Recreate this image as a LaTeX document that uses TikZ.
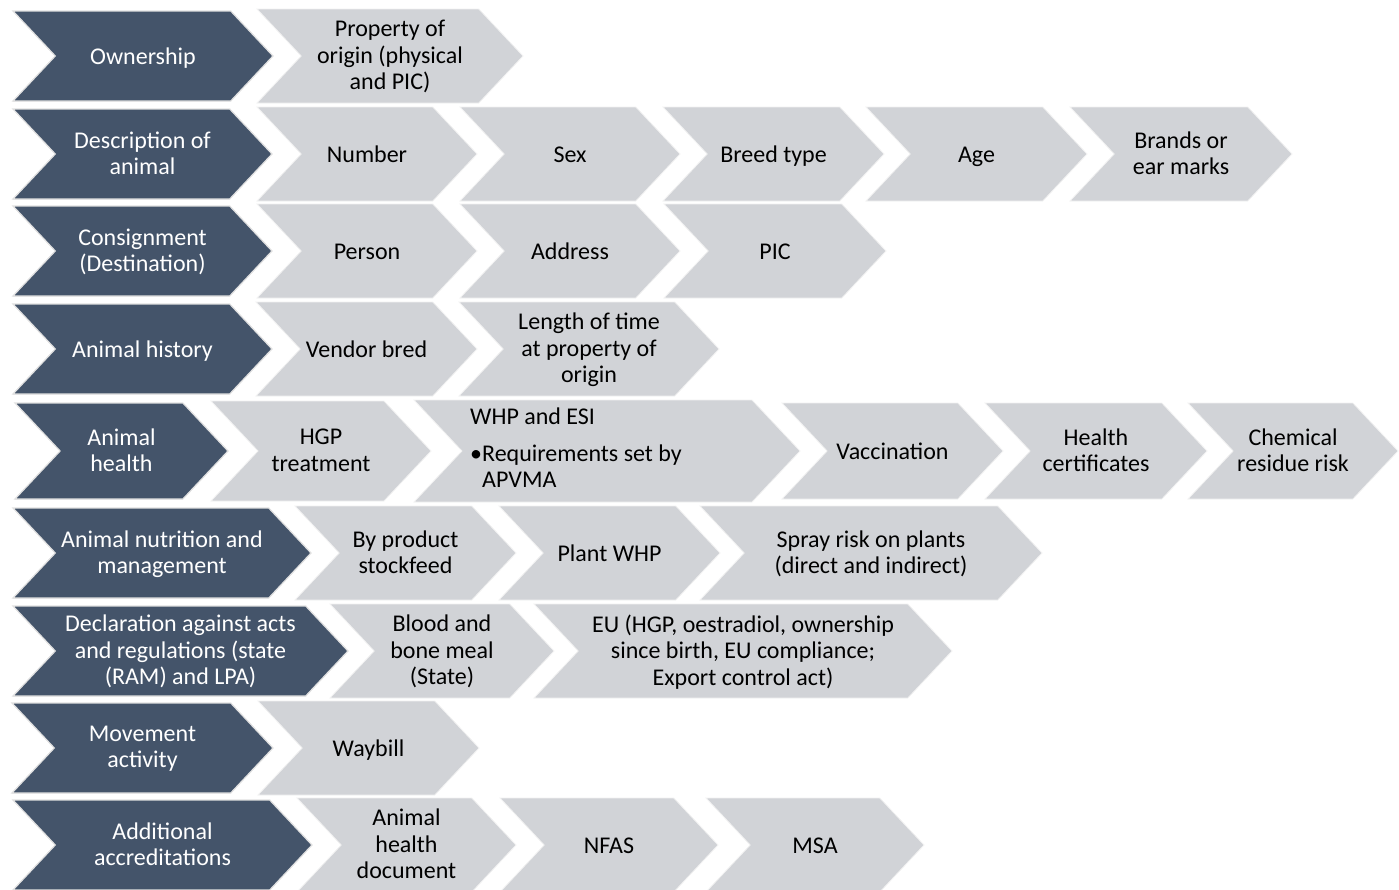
\documentclass[tikz,border=0pt]{standalone}
\usepackage{fontspec}
\setmainfont{Carlito}
\definecolor{slate}{HTML}{44546A}
\definecolor{mist}{HTML}{D1D3D7}
\tikzset{
  darkchev/.style={fill=slate, draw=black!12, line width=1.2pt},
  graychev/.style={fill=mist, draw=black!5, line width=0.8pt},
  lbl/.style={align=center, inner sep=0pt, yshift=-3pt, font=\fontsize{24}{26.5}\selectfont,
    execute at begin node=\strut, execute at end node=\strut},
  darktxt/.style={lbl, text=white},
  graytxt/.style={lbl, text=black},
  plaintxt/.style={inner sep=0pt, text=black, font=\fontsize{24}{26.5}\selectfont},
}
% chevron: name, left x, tip x, centre y, height, shape style, text style, text
\newcommand{\chv}[8]{%
  \pgfmathsetmacro{\dd}{0.47*#5}%
  \pgfmathsetmacro{\yt}{#4-#5/2}%
  \pgfmathsetmacro{\yb}{#4+#5/2}%
  \path[#6] (#2,\yt) -- ({#3-\dd},\yt) -- (#3,#4) -- ({#3-\dd},\yb) -- (#2,\yb) -- ({#2+\dd},#4) -- cycle;
  \node[#7] (#1) at ({(#2+#3)/2},#4) {#8};
}
\newcommand{\dk}[5]{\chv{#1}{#2}{#3}{#4}{90}{darkchev}{darktxt}{#5}}
\newcommand{\gy}[5]{\chv{#1}{#2}{#3}{#4}{94}{graychev}{graytxt}{#5}}
\begin{document}
\begin{tikzpicture}[x=1pt, y=-1pt]
\useasboundingbox (0,0) rectangle (1399,889);

% row 1
\dk{own}{13}{273}{56}{Ownership}
\gy{own1}{257}{523}{56}{Property of\\origin (physical\\and PIC)}

% row 2
\dk{desc}{13}{272}{154}{Description of\\animal}
\gy{desc1}{257}{477}{154}{Number}
\gy{desc2}{460}{680}{154}{Sex}
\gy{desc3}{663}{884}{154}{Breed type}
\gy{desc4}{866}{1087}{154}{Age}
\gy{desc5}{1070}{1292}{154}{Brands or\\ear marks}

% row 3
\dk{cons}{13}{272}{251}{Consignment\\(Destination)}
\gy{cons1}{257}{477}{251}{Person}
\gy{cons2}{460}{680}{251}{Address}
\gy{cons3}{664}{886}{251}{PIC}

% row 4
\dk{hist}{13}{272}{349}{Animal history}
\gy{hist1}{256}{477}{349}{Vendor bred}
\gy{hist2}{459}{719}{349}{Length of time\\at property of\\origin}

% row 5
\chv{hlth}{15}{228}{451}{96}{darkchev}{darktxt}{Animal\\health}
\chv{hlth1}{211}{431}{451}{100}{graychev}{graytxt}{HGP\\treatment}
\chv{hlth2}{414}{800}{451}{102}{graychev}{graytxt}{}
\node[plaintxt, anchor=base west] (whptitle) at (470,424) {WHP and ESI};
\node[plaintxt, anchor=base west] (whpbullet) at (470,461) {\textbullet Requirements set by};
\node[plaintxt, anchor=base west] (whpnote) at (482,487) {APVMA};
\chv{hlth3}{782}{1003}{451}{96}{graychev}{graytxt}{Vaccination}
\chv{hlth4}{985}{1207}{451}{96}{graychev}{graytxt}{Health\\certificates}
\chv{hlth5}{1188}{1398}{451}{96}{graychev}{graytxt}{Chemical\\residue risk}

% row 6
\dk{nutr}{13}{311}{553}{Animal nutrition and\\management}
\gy{nutr1}{295}{516}{553}{By product\\stockfeed}
\gy{nutr2}{499}{720}{553}{Plant WHP}
\gy{nutr3}{700}{1042}{553}{Spray risk on plants\\(direct and indirect)}

% row 7
\dk{decl}{13}{348}{651}{Declaration against acts\\and regulations (state\\(RAM) and LPA)}
\gy{decl1}{330}{554}{651}{Blood and\\bone meal\\(State)}
\gy{decl2}{534}{952}{651}{EU (HGP, oestradiol, ownership\\since birth, EU compliance;\\Export control act)}

% row 8
\dk{move}{12}{273}{748}{Movement\\activity}
\gy{move1}{258}{479}{748}{Waybill}

% row 9
\dk{accr}{13}{312}{845}{Additional\\accreditations}
\gy{accr1}{297}{516}{845}{Animal\\health\\document}
\gy{accr2}{500}{718}{845}{NFAS}
\gy{accr3}{706}{924}{845}{MSA}
\end{tikzpicture}
\end{document}
